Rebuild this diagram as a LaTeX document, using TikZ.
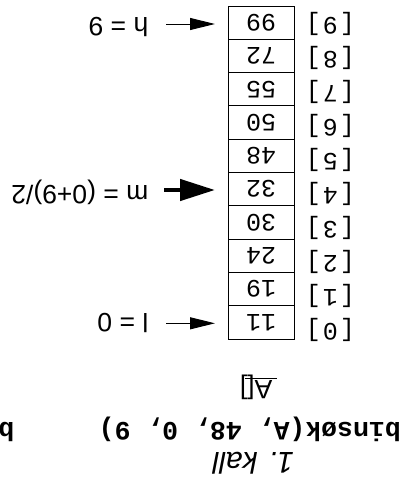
\documentclass[tikz,border=0pt]{standalone}
\usepackage{fontspec}
\setmainfont{Liberation Sans}
\newfontfamily\monof{Liberation Mono}
\newfontfamily\idxf[LetterSpace=8]{Liberation Mono}
\usetikzlibrary{arrows.meta}
\begin{document}
\begin{tikzpicture}[x=1pt,y=-1pt,
  cell/.style={draw, line width=1pt, minimum width=66pt, minimum height=33.3pt,
    inner sep=0pt, font=\monof\fontsize{25}{25}\selectfont},
  idx/.style={inner sep=0pt, font=\idxf\fontsize{25}{25}\selectfont},
  lbl/.style={inner sep=0pt, anchor=base west, font=\fontsize{26.5}{26.5}\selectfont},
  title/.style={inner sep=0pt, anchor=base west, font=\itshape\fontsize{30}{30}\selectfont},
  code/.style={inner sep=0pt, anchor=base west, font=\monof\bfseries\fontsize{26.5}{26.5}\selectfont},
  ptr/.style={line width=1pt, -{Triangle[length=25pt,width=12pt]}},
  ptrbig/.style={line width=4.5pt, -{Triangle[length=35pt,width=21pt]}}
]
\useasboundingbox (0,0) rectangle (416,485);
\clip (0,0) rectangle (416,485);
% the whole panel is drawn upside down
\begin{scope}[rotate around={180:(208,242.5)}, transform shape]
  % heading and call
  \node[title] (head) at (122,33) {1. kall};
  \node[code] (call) at (15,63) {binsøk(A, 48, 0, 9)};
  \node[code] (next) at (401.5,63) {b};
  % array name, underlined
  \node[lbl] (aname) at (143.5,105) {A[]};
  \coordinate (ul1) at (139.3,106.7);
  \coordinate (ul2) at (171,106.7);
  \draw[line width=1pt] (ul1) -- (ul2);
  % array cells and indices
  \foreach \v [count=\k from 0] in {11,19,24,30,32,48,50,55,72,99} {
    \node[cell] (c\k) at (155,162.65+33.3*\k) {\v};
    \node[idx] (i\k) at (85.7,154.6+34.1*\k) {[\k]};
  }
  % pointers
  \node[lbl] (ll) at (267.5,171.7) {l = 0};
  \node[lbl] (lm) at (267.5,300) {m = (0+9)/2};
  \node[lbl] (lh) at (267.5,468) {h = 9};
  \coordinate (lt) at (250,161.7);
  \coordinate (lp) at (201,161.7);
  \coordinate (mt) at (252,295);
  \coordinate (mp) at (201,295);
  \coordinate (ht) at (250,461);
  \coordinate (hp) at (201,461);
  \draw[ptr] (lt) -- (lp);
  \draw[ptrbig] (mt) -- (mp);
  \draw[ptr] (ht) -- (hp);
\end{scope}
\end{tikzpicture}
\end{document}
